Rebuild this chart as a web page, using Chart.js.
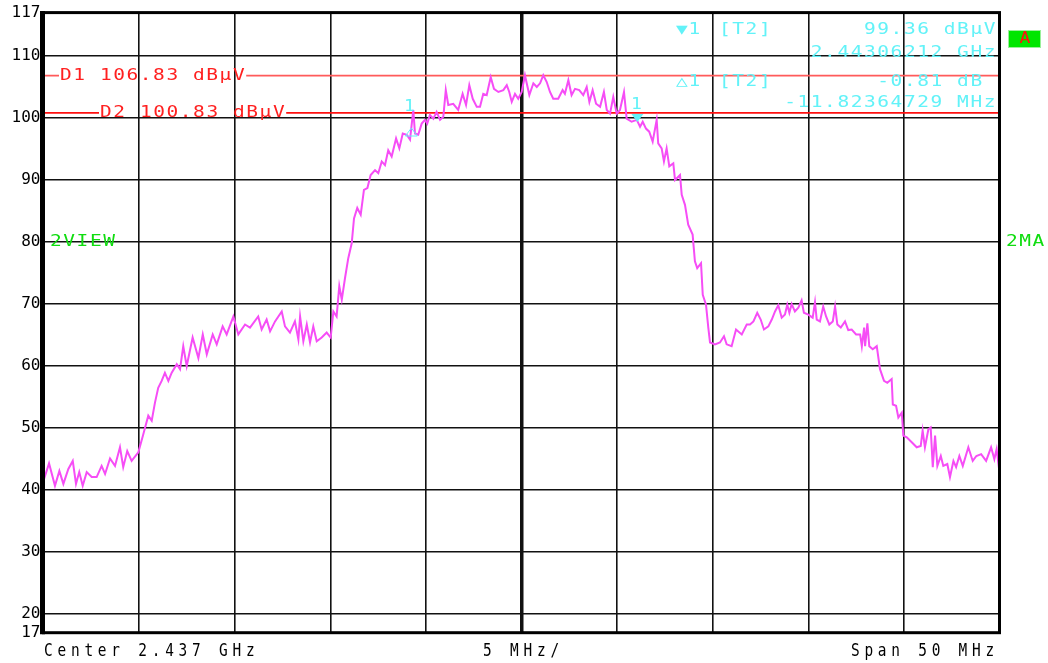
<!DOCTYPE html>
<html>
<head>
<meta charset="utf-8">
<script src="https://cdn.jsdelivr.net/npm/chart.js@4.4.1/dist/chart.umd.min.js"></script>
<style>
  html, body { margin: 0; padding: 0; background: #fff; }
  #wrap { width: 1048px; height: 663px; position: relative; }
</style>
</head>
<body>
<div id="wrap"><canvas id="spec"></canvas></div>
<script>
// ===== DATA =====
// frequency offset from left edge (2.412 GHz), MHz
const traceMHz = [
  0.00,0.29,0.60,0.83,1.04,1.30,1.53,1.70,1.87,2.05,2.26,2.52,2.78,3.04,3.22,3.48,3.74,4.00,4.17,4.38,
  4.61,4.96,5.22,5.48,5.66,5.83,6.00,6.18,6.35,6.53,6.70,6.97,7.14,7.31,7.49,7.80,8.10,8.33,8.54,8.85,
  9.06,9.37,9.58,9.93,10.19,10.54,10.80,11.23,11.41,11.67,11.85,12.11,12.46,12.63,12.89,13.15,13.33,13.42,13.59,13.77,
  13.94,14.11,14.29,14.55,14.81,15.02,15.16,15.33,15.47,15.60,15.77,15.94,16.12,16.24,16.41,16.59,16.76,16.94,17.11,17.34,
  17.51,17.69,17.86,18.03,18.21,18.44,18.61,18.79,19.00,19.17,19.34,19.43,19.60,19.78,19.95,20.07,20.21,20.39,20.56,20.74,
  20.91,21.04,21.17,21.43,21.69,21.92,22.10,22.27,22.45,22.66,22.83,23.00,23.18,23.39,23.56,23.79,24.05,24.23,24.36,24.49,
  24.66,24.83,25.01,25.18,25.41,25.62,25.80,25.97,26.14,26.32,26.49,26.66,26.92,27.15,27.27,27.45,27.62,27.80,28.02,28.23,
  28.41,28.55,28.72,28.90,29.11,29.31,29.46,29.63,29.80,29.98,30.15,30.36,30.50,30.76,31.03,31.20,31.34,31.51,31.68,31.86,
  32.07,32.15,32.33,32.45,32.59,32.73,32.94,33.03,33.29,33.38,33.55,33.72,33.95,34.07,34.19,34.39,34.48,34.65,34.77,34.86,
  35.12,35.38,35.59,35.73,35.99,36.22,36.52,36.78,36.95,37.13,37.33,37.51,37.68,37.91,38.09,38.26,38.43,38.61,38.78,38.90,
  39.01,39.13,39.30,39.48,39.65,39.77,40.00,40.23,40.35,40.44,40.61,40.78,40.93,41.10,41.28,41.40,41.52,41.70,41.92,42.09,
  42.27,42.50,42.71,42.80,42.92,42.97,43.09,43.19,43.37,43.58,43.75,43.96,44.13,44.36,44.42,44.59,44.71,44.89,44.97,45.15,
  45.41,45.67,45.88,45.98,46.10,46.28,46.40,46.51,46.63,46.75,46.93,47.06,47.27,47.41,47.59,47.73,47.90,48.08,48.37,48.60,
  48.79,49.04,49.30,49.56,49.73,49.85,49.99
];
// level, dBuV
const traceLevel = [
  41.5,44.3,40.7,43.1,41.0,43.4,44.7,41.0,42.9,40.7,42.9,42.1,42.1,43.9,42.6,45.1,43.9,46.9,43.7,46.3,
  44.7,46.1,49.0,52.0,51.2,54.1,56.5,57.6,58.9,57.6,58.9,60.3,59.5,63.2,60.0,64.6,61.3,65.1,61.9,65.1,
  63.5,66.4,65.1,68.0,65.1,66.7,66.2,68.0,65.9,67.5,65.6,67.2,68.8,66.4,65.4,67.2,64.3,68.0,64.0,66.7,
  63.8,66.4,64.0,64.6,65.4,64.6,68.8,68.0,72.9,70.7,74.2,77.4,79.8,83.8,85.5,84.4,88.4,88.7,90.8,91.6,
  91.1,93.0,92.4,94.8,93.8,96.7,95.1,97.5,97.3,96.5,101.3,97.5,97.3,99.1,99.7,99.1,100.5,99.9,101.0,99.7,
  100.2,104.5,102.1,102.3,101.3,103.9,102.1,105.3,103.1,101.8,101.8,103.9,103.7,106.6,104.7,104.2,104.5,105.3,104.2,102.6,
  103.9,103.1,104.2,106.9,103.7,105.6,105.0,105.6,106.9,105.8,104.2,103.1,103.1,104.5,103.9,106.1,103.7,104.7,104.5,103.7,
  105.0,102.6,104.5,102.3,101.8,104.2,101.3,100.7,103.4,100.7,101.3,104.2,99.9,99.4,99.7,98.6,99.4,98.3,97.8,96.2,
  99.7,95.9,95.1,93.0,95.1,92.2,92.7,90.0,90.8,87.6,86.0,82.8,81.2,76.9,75.8,76.6,71.5,69.9,66.2,63.8,
  63.5,63.8,64.8,63.5,63.2,65.9,65.1,66.7,66.7,67.2,68.6,67.5,65.9,66.4,67.5,68.8,69.8,67.8,68.3,69.9,
  68.6,70.0,68.8,69.4,70.6,68.6,68.3,67.8,70.3,67.5,67.2,69.6,68.0,66.7,67.2,69.6,66.7,66.2,67.2,65.8,
  65.9,65.1,65.1,63.2,66.2,63.2,66.9,63.2,62.7,63.2,59.5,57.6,57.3,57.9,53.8,53.6,51.7,52.5,48.8,48.5,
  47.7,46.9,47.1,49.6,46.9,49.8,50.1,43.7,48.8,43.9,45.5,43.9,44.2,42.1,44.7,43.7,45.5,43.9,46.9,44.7,
  45.5,45.8,44.7,46.9,45.0,46.6,43.1
];

const yTicks = [17, 20, 30, 40, 50, 60, 70, 80, 90, 100, 110, 117];
const xGridMHz = [0, 5, 10, 15, 20, 25, 30, 35, 40, 45, 50];

// display lines
const displayLineNames = ["D1", "D2"];
const displayLineLevels = [106.83, 100.83];

// markers: [marker 1, delta 1]
const markerMHz = [31.06, 19.24];
const markerLevel = [99.36, 98.55];

const markerText = [
  ["\u25BC1", "[T2]", "99.36 dB\u03BCV"],
  ["", "", "2.44306212 GHz"],
  ["\u25B31", "[T2]", "-0.81 dB "],
  ["", "", "-11.82364729 MHz"]
];

const bottomLeft = "Center 2.437 GHz";
const bottomMid = "5 MHz/";
const bottomRight = "Span 50 MHz";

// ===== HELPERS =====
const MONO = '"DejaVu Sans Mono", monospace';
const CYAN = "#62f2f8";

// text with letter spacing and horizontal stretch, returns drawn width
function drawText(ctx, str, x, y, align, color, size, spacing, sx) {
  sx = sx || 1;
  ctx.save();
  ctx.font = size + "px " + MONO;
  ctx.fillStyle = color;
  ctx.textAlign = "left";
  ctx.textBaseline = "middle";
  if ("letterSpacing" in ctx) ctx.letterSpacing = spacing + "px";
  const w = ctx.measureText(str).width * sx;
  let x0 = x;
  if (align === "right") x0 = x - w;
  if (align === "center") x0 = x - w / 2;
  ctx.translate(x0, y);
  ctx.scale(sx, 1);
  ctx.fillText(str, 0, 0);
  ctx.restore();
  return w;
}

const specPlugin = {
  id: "spec",
  beforeDatasetsDraw(chart) {
    const { ctx, chartArea: a, scales: { y } } = chart;
    // display lines with label gaps
    const starts = [60, 100];
    const colors = ["#ff5a5a", "#ff1010"];
    displayLineLevels.forEach((lvl, i) => {
      const py = y.getPixelForValue(lvl);
      const label = displayLineNames[i] + " " + lvl.toFixed(2) + " dB\u03BCV";
      const w = drawText(ctx, label, starts[i], py, "left", "#ff2020", 15, 1.2, 1.3);
      ctx.save();
      ctx.strokeStyle = colors[i];
      ctx.lineWidth = 1.6;
      ctx.beginPath();
      ctx.moveTo(a.left, py); ctx.lineTo(starts[i] - 1, py);
      ctx.moveTo(starts[i] + w, py); ctx.lineTo(a.right, py);
      ctx.stroke();
      ctx.restore();
    });
  },
  afterDatasetsDraw(chart) {
    const { ctx, chartArea: a, scales: { x, y } } = chart;

    // markers on trace
    ctx.save();
    const mx = x.getPixelForValue(markerMHz[0]), my = y.getPixelForValue(markerLevel[0]);
    ctx.fillStyle = CYAN;
    ctx.beginPath();
    ctx.moveTo(mx - 6, my - 8); ctx.lineTo(mx + 6, my - 8); ctx.lineTo(mx, my);
    ctx.closePath(); ctx.fill();
    drawText(ctx, "1", mx - 1, my - 17, "center", CYAN, 15, 0, 1.2);
    const dx = x.getPixelForValue(markerMHz[1]), dy = y.getPixelForValue(markerLevel[1]);
    ctx.strokeStyle = CYAN; ctx.lineWidth = 1;
    ctx.beginPath();
    ctx.moveTo(dx, dy + 1); ctx.lineTo(dx + 6, dy + 9); ctx.lineTo(dx - 6, dy + 9);
    ctx.closePath(); ctx.stroke();
    drawText(ctx, "1", dx - 2, dy - 20, "center", CYAN, 15, 0, 1.2);
    ctx.restore();

    // marker readout
    const rows = [30, 53, 82, 103];
    markerText.forEach((r, i) => {
      if (r[0]) drawText(ctx, r[0], 676, rows[i], "left", CYAN, 15, 0.5, 1.3);
      if (r[1]) drawText(ctx, r[1], 719, rows[i], "left", CYAN, 15, 1.2, 1.3);
      drawText(ctx, r[2], 997, rows[i], "right", CYAN, 15, 1.2, 1.3);
    });

    // frame
    ctx.save();
    ctx.strokeStyle = "#000";
    ctx.lineWidth = 3;
    ctx.strokeRect(a.left, a.top, a.right - a.left, a.bottom - a.top);
    ctx.lineWidth = 5;
    ctx.beginPath(); ctx.moveTo(a.left - 1, a.top - 1.5); ctx.lineTo(a.left - 1, a.bottom + 1.5); ctx.stroke();
    ctx.restore();

    // side labels
    const p80 = y.getPixelForValue(80);
    drawText(ctx, "2VIEW", 50, p80, "left", "#10dd10", 15, 1.2, 1.3);
    drawText(ctx, "2MA", 1006, p80, "left", "#10dd10", 15, 1.2, 1.3);

    // "A" box
    ctx.save();
    ctx.fillStyle = "#00e600";
    ctx.fillRect(1008, 30, 33, 18);
    ctx.strokeStyle = "#9af09a";
    ctx.lineWidth = 1;
    ctx.strokeRect(1008.5, 30.5, 32, 17);
    ctx.restore();
    drawText(ctx, "A", 1025, 39.5, "center", "#ff1010", 15, 0, 1.2);

    // bottom annotation
    const by = 652;
    drawText(ctx, bottomLeft, 44, by, "left", "#000", 17, 5.6, 0.85);
    drawText(ctx, bottomMid, x.getPixelForValue(25) + 2, by, "center", "#000", 17, 5.6, 0.85);
    drawText(ctx, bottomRight, 999, by, "right", "#000", 17, 5.6, 0.85);
  }
};

// ===== CHART =====
const ctx = document.getElementById("spec").getContext("2d");

new Chart(ctx, {
  type: "line",
  data: {
    datasets: [{
      data: traceMHz.map((f, i) => ({ x: f, y: traceLevel[i] })),
      borderColor: "#f64df6",
      borderWidth: 2,
      pointRadius: 0,
      tension: 0,
      clip: 0
    }]
  },
  options: {
    responsive: true,
    maintainAspectRatio: false,
    animation: false,
    events: [],
    layout: { padding: { left: 0, top: 10.5, right: 48.5, bottom: 30.3 } },
    plugins: { legend: { display: false }, tooltip: { enabled: false } },
    scales: {
      x: {
        type: "linear",
        min: 0,
        max: 50,
        border: { display: false },
        afterBuildTicks: s => { s.ticks = xGridMHz.map(v => ({ value: v })); },
        afterFit: s => { s.height = 0; },
        ticks: { display: false },
        grid: {
          drawTicks: false,
          color: "#111",
          lineWidth: c => (c.tick && c.tick.value === 25 ? 3.5 : 1.6)
        }
      },
      y: {
        min: 17,
        max: 117,
        border: { display: false },
        afterBuildTicks: s => { s.ticks = yTicks.map(v => ({ value: v })); },
        afterFit: s => { s.width = 43.5; },
        ticks: {
          autoSkip: false,
          padding: 3,
          color: "#000",
          font: { family: MONO, size: 16 }
        },
        grid: {
          drawTicks: false,
          color: "#111",
          lineWidth: 1.6
        }
      }
    }
  },
  plugins: [specPlugin]
});
</script>
</body>
</html>
